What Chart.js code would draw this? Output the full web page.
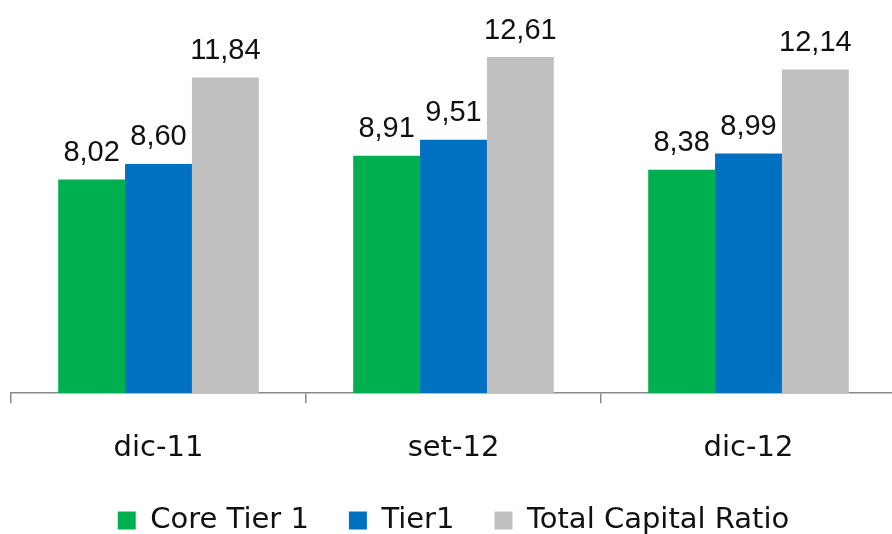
<!DOCTYPE html>
<html>
<head>
<meta charset="utf-8">
<script src="https://cdn.jsdelivr.net/npm/chart.js@4/dist/chart.umd.min.js"></script>
<style>
  html, body { margin: 0; padding: 0; background: #fff; overflow: hidden; }
  #wrap { position: relative; width: 896px; height: 545px; }
</style>
</head>
<body>
<div id="wrap"><canvas id="c" width="896" height="545"></canvas></div>
<script>
const categories = ["dic-11", "set-12", "dic-12"];
const coreTier1 = [8.02, 8.91, 8.38];
const tier1 = [8.60, 9.51, 8.99];
const totalCapitalRatio = [11.84, 12.61, 12.14];
const seriesNames = ["Core Tier 1", "Tier1", "Total Capital Ratio"];

const valueLabels = {
  id: 'valueLabels',
  afterDatasetsDraw(chart) {
    const ctx = chart.ctx;
    ctx.save();
    ctx.font = '29px "Liberation Sans", Arial, sans-serif';
    ctx.fillStyle = '#111';
    ctx.textAlign = 'center';
    ctx.textBaseline = 'alphabetic';
    chart.data.datasets.forEach((ds, i) => {
      const meta = chart.getDatasetMeta(i);
      meta.data.forEach((bar, j) => {
        const txt = ds.data[j].toFixed(2).replace('.', ',');
        ctx.fillText(txt, bar.x, bar.y - 18.5);
      });
    });
    ctx.restore();
  }
};

new Chart(document.getElementById('c'), {
  type: 'bar',
  data: {
    labels: categories,
    datasets: [
      { label: seriesNames[0], data: coreTier1, backgroundColor: '#00B050' },
      { label: seriesNames[1], data: tier1, backgroundColor: '#0070C0' },
      { label: seriesNames[2], data: totalCapitalRatio, backgroundColor: '#C0C0C0' }
    ]
  },
  options: {
    responsive: false,
    animation: false,
    devicePixelRatio: 1,
    layout: { padding: { left: 11, right: 0, top: 20, bottom: 0 } },
    datasets: { bar: { categoryPercentage: 0.68, barPercentage: 1.0 } },
    scales: {
      x: {
        afterFit(scale) { scale.height -= 28; },
        grid: { display: true, drawOnChartArea: false, drawTicks: true, tickLength: 10, color: '#898989', lineWidth: 1.5 },
        border: { display: true, color: '#898989', width: 1.5 },
        ticks: { color: '#111', font: { family: '"DejaVu Sans", sans-serif', size: 29 }, padding: 28 }
      },
      y: {
        display: false,
        min: 0,
        max: 14
      }
    },
    plugins: {
      legend: {
        position: 'bottom',
        labels: {
          boxWidth: 18,
          boxHeight: 18,
          padding: 40,
          color: '#111',
          font: { family: '"DejaVu Sans", sans-serif', size: 29 }
        }
      },
      tooltip: { enabled: false }
    }
  },
  plugins: [valueLabels]
});
</script>
</body>
</html>
